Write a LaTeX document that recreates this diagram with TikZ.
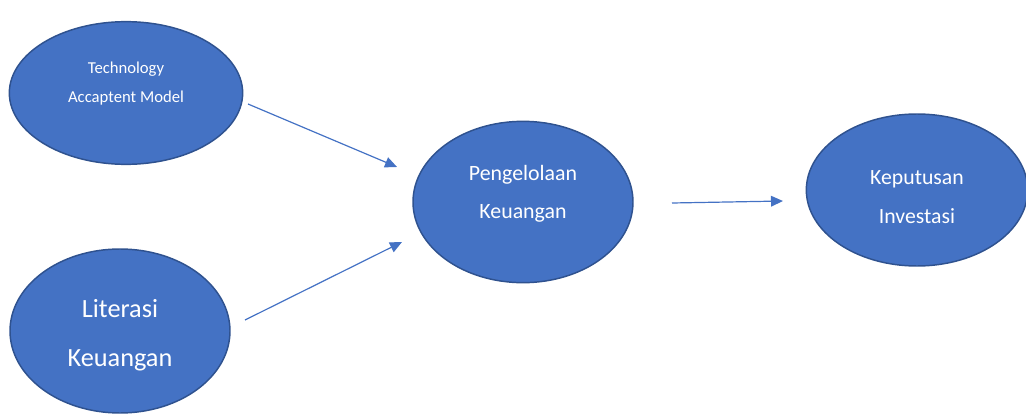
\documentclass[tikz,border=0pt]{standalone}
\usepackage{fontspec}
\setmainfont{Carlito}
\usetikzlibrary{shapes.geometric, arrows.meta}
\definecolor{ovalblue}{HTML}{4472C4}
\definecolor{ovalline}{HTML}{2F528F}

\begin{document}
\begin{tikzpicture}[x=0.75pt, y=-0.75pt,
	oval/.style = {draw = ovalline, line width = 1.1pt, fill = ovalblue, ellipse, inner sep = 0pt, align = center, text = white},
	link/.style = {-{Triangle[length = 9pt, width = 8pt]}, line width = 0.9pt, ovalblue}]
	\useasboundingbox (0,0) rectangle (1026,414);

	\node [oval, minimum width = 175pt, minimum height = 107pt, font = \fontsize{12.5}{22}\selectfont, text depth = 16pt] (tam) at (126,93) {Technology\\Accaptent Model};
	\node [oval, minimum width = 165pt, minimum height = 123pt, font = \fontsize{19.7}{37}\selectfont, text height = 57pt] (lit) at (120,331) {Literasi\\Keuangan};
	\node [oval, minimum width = 165pt, minimum height = 121pt, font = \fontsize{16.4}{28.5}\selectfont, text depth = 15pt] (pk) at (523,202) {Pengelolaan\\Keuangan};
	\node [oval, minimum width = 166pt, minimum height = 114pt, font = \fontsize{16.3}{29}\selectfont, text height = 50pt] (ki) at (917,190) {Keputusan\\Investasi};

	\coordinate (tam-out) at (248,104);
	\coordinate (pk-in1) at (397,167);
	\coordinate (lit-out) at (245,320);
	\coordinate (pk-in2) at (402,242);
	\coordinate (pk-out) at (672,203);
	\coordinate (ki-in) at (783,201);

	\draw [link] (tam-out) -- (pk-in1);
	\draw [link] (lit-out) -- (pk-in2);
	\draw [link] (pk-out) -- (ki-in);
\end{tikzpicture}
\end{document}
